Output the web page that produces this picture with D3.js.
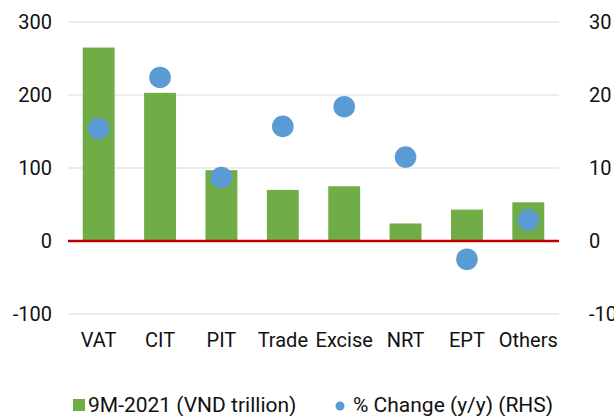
<!DOCTYPE html>
<html>
<head>
<meta charset="utf-8">
<script src="https://cdn.jsdelivr.net/npm/d3@7"></script>
<style>
  html, body { margin: 0; padding: 0; background: #fff; }
  svg text { font-family: Roboto, "Liberation Sans", sans-serif; fill: #111; }
</style>
</head>
<body>
<div id="container"></div>
<script>
// Data
const categories = ['VAT', 'CIT', 'PIT', 'Trade', 'Excise', 'NRT', 'EPT', 'Others'];
const revenue = [265, 203, 97, 70, 75, 24, 43, 53];          // 9M-2021 (VND trillion)
const changePct = [15.4, 22.4, 8.7, 15.7, 18.4, 11.5, -2.5, 2.9]; // % change y/y (RHS)
const leftTicks = [-100, 0, 100, 200, 300];
const rightTicks = [-10, 0, 10, 20, 30];
const legendLabels = ['9M-2021 (VND trillion)', '% Change (y/y) (RHS)'];

const W = 614, H = 416;
const plot = { left: 68, right: 559, top: 22, bottom: 314 };
const green = '#70ad47', blue = '#5b9bd5', red = '#c00000';

const svg = d3.select('#container')
  .append('svg')
  .attr('width', W)
  .attr('height', H);

// Scales
const x = d3.scaleBand()
  .domain(categories)
  .range([plot.left, plot.right])
  .paddingInner(0.48)
  .paddingOuter(0.24);

const yL = d3.scaleLinear()
  .domain([-100, 300])
  .range([plot.bottom, plot.top]);

const yR = d3.scaleLinear()
  .domain([-10, 30])
  .range([plot.bottom, plot.top]);

// Gridlines
svg.append('g')
  .selectAll('line')
  .data(leftTicks.filter(d => d !== 0))
  .enter()
  .append('line')
  .attr('x1', plot.left)
  .attr('x2', plot.right)
  .attr('y1', d => yL(d))
  .attr('y2', d => yL(d))
  .attr('stroke', '#d9d9d9')
  .attr('stroke-width', 1);

// plain hyphen for negatives, like the original
const fmt = d => String(d);

// Left axis
const leftAxis = svg.append('g')
  .attr('transform', `translate(${plot.left},0)`)
  .call(d3.axisLeft(yL).tickValues(leftTicks).tickFormat(fmt).tickSize(0).tickPadding(16));
leftAxis.select('.domain').remove();
leftAxis.selectAll('text').attr('font-size', 20).attr('dy', '0.32em');

// Right axis
const rightAxis = svg.append('g')
  .attr('transform', `translate(${plot.right},0)`)
  .call(d3.axisRight(yR).tickValues(rightTicks).tickFormat(fmt).tickSize(0).tickPadding(30));
rightAxis.select('.domain').remove();
rightAxis.selectAll('text').attr('font-size', 20).attr('dy', '0.32em');

// Bars
svg.selectAll('.bar')
  .data(categories)
  .enter()
  .append('rect')
  .attr('class', 'bar')
  .attr('x', d => x(d))
  .attr('width', x.bandwidth())
  .attr('y', (d, i) => Math.min(yL(revenue[i]), yL(0)))
  .attr('height', (d, i) => Math.abs(yL(0) - yL(revenue[i])))
  .attr('fill', green);

// Zero line
svg.append('line')
  .attr('x1', plot.left)
  .attr('x2', plot.right)
  .attr('y1', yL(0))
  .attr('y2', yL(0))
  .attr('stroke', red)
  .attr('stroke-width', 2.5);

// Dots (RHS)
svg.selectAll('.dot')
  .data(categories)
  .enter()
  .append('circle')
  .attr('class', 'dot')
  .attr('cx', d => x(d) + x.bandwidth() / 2)
  .attr('cy', (d, i) => yR(changePct[i]))
  .attr('r', 10.8)
  .attr('fill', blue);

// Category axis
const xAxis = svg.append('g')
  .attr('transform', `translate(0,${plot.bottom})`)
  .call(d3.axisBottom(x).tickSize(0).tickPadding(19));
xAxis.select('.domain').remove();
xAxis.selectAll('text').attr('font-size', 20);

// Legend
const legend = svg.append('g');
legend.append('rect')
  .attr('x', 73).attr('y', 399)
  .attr('width', 12).attr('height', 12)
  .attr('fill', green);
legend.append('text')
  .attr('x', 88).attr('y', 412)
  .attr('font-size', 21)
  .text(legendLabels[0]);
legend.append('circle')
  .attr('cx', 340).attr('cy', 406)
  .attr('r', 4.5)
  .attr('fill', blue);
legend.append('text')
  .attr('x', 353).attr('y', 412)
  .attr('font-size', 21)
  .text(legendLabels[1]);
</script>
</body>
</html>
